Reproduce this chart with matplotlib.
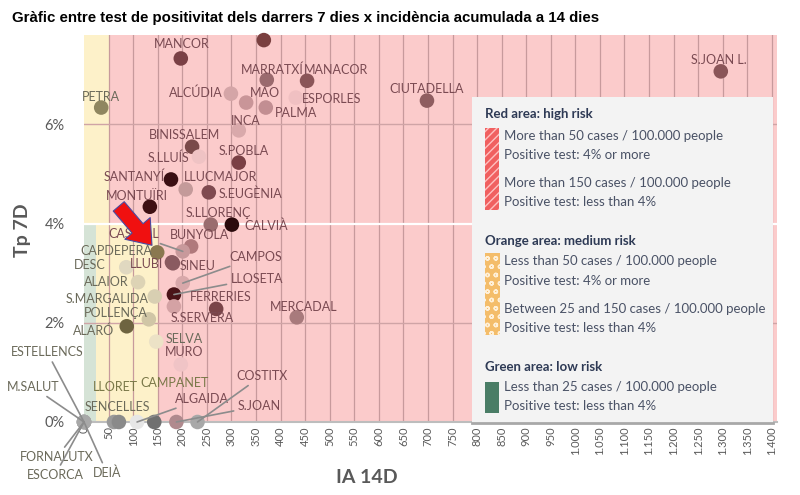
import numpy as np
import matplotlib
matplotlib.use('Agg')
from matplotlib import pyplot as plt
from matplotlib.patches import Rectangle, FancyArrowPatch

# dades (IA 14D, Tp 7D %)
names = ['MANCOR', '', 'MARRATXÍ', 'MANACOR', 'ALCÚDIA', 'MAO', 'ESPORLES', 'PALMA',
         'PETRA', 'CIUTADELLA', 'S.JOAN L.', 'INCA', 'BINISSALEM', 'S.LLUÍS', 'S.POBLA',
         'SANTANYÍ', 'LLUCMAJOR', 'S.EUGÈNIA', 'MONTUÏRI', 'S.LLORENÇ', 'CALVIÀ',
         'BUNYOLA', 'CASTELL', 'CAPDEPERA', 'DESC', 'LLUBI', 'SINEU', 'CAMPOS',
         'LLOSETA', 'FERRERIES', 'S.SERVERA', 'MERCADAL', 'ALAIOR', 'S.MARGALIDA',
         'POLLENÇA', 'ALARÓ', 'SELVA', 'MURO',
         'ESTELLENCS', 'M.SALUT', 'FORNALUTX', 'ESCORCA', 'DEIÀ',
         'LLORET', 'SENCELLES', 'ALGAIDA', 'CAMPANET', 'S.JOAN', 'COSTITX']
ia14 = [197, 366, 372, 454, 299, 330, 431, 370,
        35, 698, 1296, 315, 220, 234, 315,
        177, 207, 254, 134, 258, 301,
        218, 201, 149, 86, 179, 181, 201,
        183, 269, 183, 433, 110, 144,
        132, 87, 147, 197,
        0, 0, 0, 0, 0,
        61, 71, 108, 143, 188, 231]
tp7 = [7.33, 7.70, 6.90, 6.88, 6.62, 6.44, 6.54, 6.34,
       6.34, 6.48, 7.07, 5.88, 5.55, 5.35, 5.23,
       4.89, 4.69, 4.63, 4.34, 3.98, 3.98,
       3.54, 3.44, 3.42, 3.12, 3.22, 3.20, 2.80,
       2.57, 2.28, 2.33, 2.11, 2.82, 2.53,
       2.07, 1.93, 1.62, 1.16,
       0, 0, 0, 0, 0,
       0, 0, 0, 0, 0, 0]

# colors dels punts
dot_colors = ['#7a4045', '#7a4040', '#9a6a6e', '#8a5558', '#d4a5a7', '#c99598', '#f0c0c2', '#c28e92',
              '#8f8660', '#8f5d60', '#8a5558', '#d9a9ab', '#7a4a4a', '#efc3c4', '#7a4045',
              '#3a0e12', '#c49a9a', '#7f4a50', '#3e1013', '#9a6c6e', '#2a0a0c',
              '#b0797c', '#c8999b', '#8a7850', '#e0d8c0', '#8a5a60', '#8a5a60', '#d8a8aa',
              '#4a1418', '#7a4448', '#d4a2a4', '#a87a7c', '#ddd3b5', '#d8cfb2',
              '#d0c6a6', '#6e6440', '#ece2c6', '#f0c4c6',
              '#a8a8a8', '#a8a8a8', '#a8a8a8', '#a8a8a8', '#a8a8a8',
              '#9a9a9a', '#8a8a8a', '#e6e6e6', '#707070', '#b08a8e', '#a8a8a8']

# posicio etiquetes (pixels) i linia guia
lab_off = [(1, 14), (0, 0), (5, 10), (29, 11), (-35, 1), (19, 10), (36, -1), (30, -5),
           (0, 11), (0, 12), (-2, 11), (7, 9), (-8, 12), (-30, -1), (5, 12),
           (-37, 3), (35, 12), (42, -1), (-13, 11), (8, 12), (34, -1),
           (8, 11), (-49, 17), (-41, 1), (-37, 2), (-25, -2), (25, -3), (73, 26),
           (83, 16), (5, 12), (28, -12), (7, 10), (-32, 0), (-48, -2),
           (-33, 6), (-33, -4), (28, 3), (3, 12),
           (-37, 70), (-51, 35), (-27, -35), (-29, -53), (23, -51),
           (1, 35), (-2, 15), (65, 23), (20, 39), (83, 16), (64, 46)]
leader = {'CASTELL', 'CAMPOS', 'LLOSETA', 'ESTELLENCS', 'M.SALUT', 'FORNALUTX',
          'ESCORCA', 'DEIÀ', 'ALGAIDA', 'S.JOAN', 'COSTITX'}

xticks = list(range(0, 1401, 50))
yticks = [0, 2, 4, 6]

fig = plt.figure(figsize=(8, 4.95), dpi=100)
ax = fig.add_axes([0.105, 0.1475, 0.866, 0.7815])
ax.set_xlim(0, 1410)
ax.set_ylim(0, 7.8)

# zones de risc
pink = '#fbcbcb'
yellow = '#fdf1c9'
green = '#d5e3d6'
ax.add_patch(Rectangle((0, 0), 1410, 7.8, fc=pink, ec='none', zorder=0))
ax.add_patch(Rectangle((0, 4), 50, 3.8, fc=yellow, ec='none', zorder=0))
ax.add_patch(Rectangle((25, 0), 125, 4, fc=yellow, ec='none', zorder=0))
ax.add_patch(Rectangle((0, 0), 25, 4, fc=green, ec='none', zorder=0))

for v in xticks[1:]:
    ax.axvline(v, color='#c79a9c', lw=0.9, zorder=1)
for v in [2, 6]:
    ax.axhline(v, color='#cfa4a6', lw=1.0, zorder=1)
ax.axhline(4, color='white', lw=1.6, zorder=1)

for s in ['top', 'right', 'left']:
    ax.spines[s].set_visible(False)
ax.spines['bottom'].set_color('#bdbdbd')
ax.spines['bottom'].set_linewidth(1.5)

ax.set_xticks(xticks)
ax.set_xticklabels([f'{v:,}'.replace(',', '.') for v in xticks], rotation=90,
                   fontsize=8, color='#5a5a5a', family='Lato')
ax.set_yticks(yticks)
ax.set_yticklabels([f'{v}%' for v in yticks], fontsize=10.5, color='#5a5a5a', family='Lato')
ax.tick_params(length=0, axis='y', pad=14)
ax.tick_params(length=0, axis='x', pad=3)

ax.scatter(ia14, tp7, s=110, c=dot_colors, zorder=4, clip_on=False, linewidths=0)

for n, x, y, off in zip(names, ia14, tp7, lab_off):
    if not n:
        continue
    pinkzone = (y >= 4 and x > 50) or (y < 4 and x > 150)
    col = '#7a4a52' if pinkzone else '#6b6a5a'
    if n in ('CAMPANET', 'LLORET'):
        col = '#7a7848'
    if n in ('ALGAIDA', 'S.JOAN', 'COSTITX'):
        col = '#7a4a52'
    kw = {}
    if n in leader:
        kw['arrowprops'] = dict(arrowstyle='-', color='#8c8c8c', lw=1.2,
                                shrinkA=1, shrinkB=0)
    ax.annotate(n, (x, y), xytext=off, textcoords='offset pixels', ha='center',
                va='center', fontsize=9, color=col, family='Lato', zorder=5,
                annotation_clip=False, **kw)

# fletxa vermella
arr = FancyArrowPatch((67, 4.39), (142, 3.52),
                      arrowstyle='simple,head_length=1.0,head_width=1.5,tail_width=0.65',
                      mutation_scale=16, fc='#f01010', ec='#4a4aa0', lw=0.8, zorder=6)
ax.add_patch(arr)

fig.text(0.015, 0.963, 'Gràfic entre test de positivitat dels darrers 7 dies x incidència acumulada a 14 dies',
         fontsize=10.8, fontweight='bold', family='Liberation Sans', va='center')
fig.text(0.028, 0.535, 'Tp 7D', rotation=90, fontsize=14, fontweight='bold', color='#595959',
         family='Lato', va='center', ha='center')
fig.text(0.459, 0.036, 'IA 14D', fontsize=14, fontweight='bold', color='#595959',
         family='Lato', va='center', ha='center')

# llegenda
lg = fig.add_axes([0.59, 0.1455, 0.376, 0.6585])
lg.set_xlim(0, 301)
lg.set_ylim(326, 0)
lg.set_facecolor('#f3f3f3')
lg.set_xticks([])
lg.set_yticks([])
for s in ['top', 'right', 'left']:
    lg.spines[s].set_visible(False)
lg.spines['bottom'].set_color('#a8a8a8')
lg.spines['bottom'].set_linewidth(2)
lg.set_zorder(10)

head = '#2e3a55'
body = '#4a5266'
lg.text(13, 17, 'Red area: high risk', fontsize=9.5, fontweight='bold', color=head, family='Lato', va='center')
lg.add_patch(Rectangle((13, 31), 14, 82, fc='#f06060', ec='#ffc0c0', hatch='////', lw=0))
lg.text(32, 39, 'More than 50 cases / 100.000 people', fontsize=9.5, color=body, family='Lato', va='center')
lg.text(32, 58, 'Positive test: 4% or more', fontsize=9.5, color=body, family='Lato', va='center')
lg.text(32, 86, 'More than 150 cases / 100.000 people', fontsize=9.5, color=body, family='Lato', va='center')
lg.text(32, 105, 'Positive test: less than 4%', fontsize=9.5, color=body, family='Lato', va='center')

lg.text(13, 144, 'Orange area: medium risk', fontsize=9.5, fontweight='bold', color=head, family='Lato', va='center')
lg.add_patch(Rectangle((13, 156), 15, 82, fc='#f4bd6a', ec='#fff0d8', hatch='oo', lw=0))
lg.text(32, 164, 'Less than 50 cases / 100.000 people', fontsize=9.5, color=body, family='Lato', va='center')
lg.text(32, 184, 'Positive test: 4% or more', fontsize=9.5, color=body, family='Lato', va='center')
lg.text(32, 212, 'Between 25 and 150 cases / 100.000 people', fontsize=9.5, color=body, family='Lato', va='center')
lg.text(32, 231, 'Positive test: less than 4%', fontsize=9.5, color=body, family='Lato', va='center')

lg.text(13, 270, 'Green area: low risk', fontsize=9.5, fontweight='bold', color=head, family='Lato', va='center')
lg.add_patch(Rectangle((13, 285), 14, 31, fc='#4a7d66', ec='none'))
lg.text(32, 290, 'Less than 25 cases / 100.000 people', fontsize=9.5, color=body, family='Lato', va='center')
lg.text(32, 309, 'Positive test: less than 4%', fontsize=9.5, color=body, family='Lato', va='center')

fig.savefig('out.png', dpi=100)
